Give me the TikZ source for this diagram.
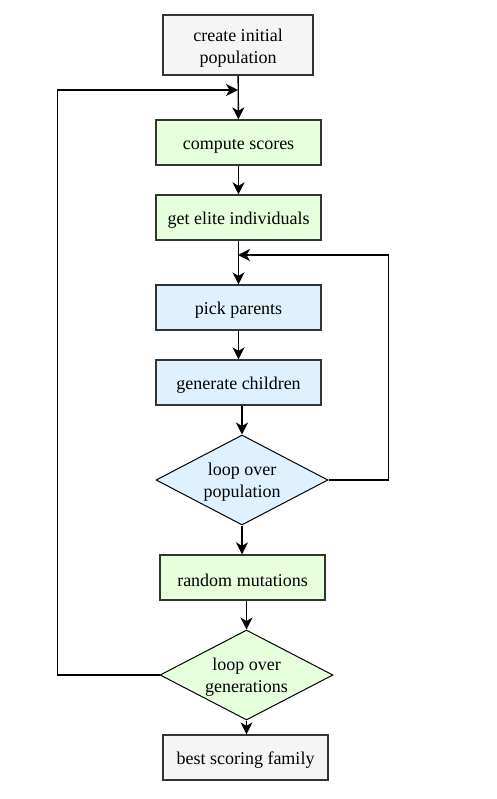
\documentclass[tikz,border=0pt]{standalone}
\usepackage{fontspec}
\setmainfont{Liberation Serif}
\usetikzlibrary{arrows.meta}
\usetikzlibrary{shapes.geometric}

\definecolor{boxgray}{HTML}{F5F5F5}
\definecolor{boxgreen}{HTML}{E6FFDD}
\definecolor{boxblue}{HTML}{DFF1FF}
\definecolor{edgegray}{HTML}{333333}

\begin{document}
\begin{tikzpicture}[x=1pt, y=-1pt,
    box/.style={draw=edgegray, line width=1.3pt, minimum width=165pt, minimum height=45pt,
        inner sep=0pt, align=center, font=\fontsize{18}{22}\selectfont, text height=18.5pt},
    decide/.style={diamond, draw=black, line width=1pt, minimum width=172pt, minimum height=90pt,
        aspect=1.9, inner sep=0pt, align=center, font=\fontsize{18}{22}\selectfont, text height=38pt},
    arr/.style={-{Stealth[length=12pt, width=12pt, inset=3.5pt]}, line width=1.4pt}]
    \useasboundingbox (0,0) rectangle (497,799);

    \node [box, fill=boxgray, minimum width=150pt, minimum height=60pt, text height=41pt] (init) at (238,45) {create initial\\population};
    \node [box, fill=boxgreen] (score) at (238.5,142.5) {compute scores};
    \node [box, fill=boxgreen] (elite) at (238.5,217.5) {get elite individuals};
    \node [box, fill=boxblue] (parents) at (238.5,307.5) {pick parents};
    \node [box, fill=boxblue] (children) at (238.5,382.5) {generate children};
    \node [decide, fill=boxblue] (pop) at (242,480) {loop over\\population};
    \node [box, fill=boxgreen] (mutate) at (242.5,577.5) {random mutations};
    \node [decide, fill=boxgreen, minimum width=173pt] (gens) at (246.5,675) {loop over\\generations};
    \node [box, fill=boxgray] (best) at (245.5,757.5) {best scoring family};

    % where the two loops come back in
    \coordinate (genjoin) at (238,90);
    \coordinate (popjoin) at (238,255);

    \draw [arr] (init) -- (score);
    \draw [arr] (score) -- (elite);
    \draw [arr] (elite) -- (parents);
    \draw [arr] (parents) -- (children);
    \draw [arr] (children.south -| pop.north) -- (pop.north);
    \draw [arr] (pop.south) -- (pop.south |- mutate.north);
    \draw [arr] (mutate.south -| gens.north) -- (gens.north);
    \draw [arr] (gens.south) -- (gens.south |- best.north);

    \draw [arr] (pop.east) -- ++(60,0) |- (popjoin);
    \draw [arr] (gens.west) -- ++(-102,0) |- (genjoin);
\end{tikzpicture}
\end{document}
